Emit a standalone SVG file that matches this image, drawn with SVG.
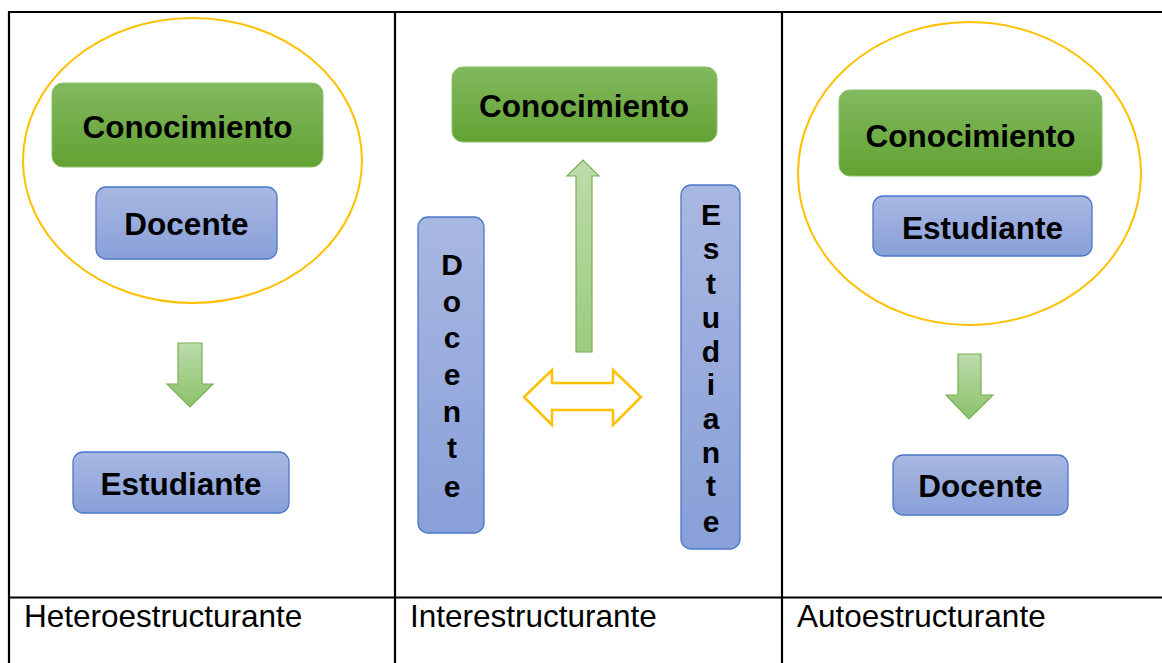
<svg xmlns="http://www.w3.org/2000/svg" width="1162" height="663" viewBox="0 0 1162 663">
<defs>
<linearGradient id="gG" x1="0" y1="0" x2="0" y2="1"><stop offset="0" stop-color="#82b95f"/><stop offset="1" stop-color="#62a232"/></linearGradient>
<linearGradient id="gB" x1="0" y1="0" x2="0" y2="1"><stop offset="0" stop-color="#a9b8e2"/><stop offset="1" stop-color="#889fd8"/></linearGradient>
<linearGradient id="gA" x1="0" y1="0" x2="0" y2="1"><stop offset="0" stop-color="#bcdcac"/><stop offset="1" stop-color="#8cc26a"/></linearGradient>
<linearGradient id="gAu" x1="0" y1="1" x2="0" y2="0"><stop offset="0" stop-color="#9ccc80"/><stop offset="1" stop-color="#bddcac"/></linearGradient>
</defs>
<style>
.grid{stroke:#000;stroke-width:2.2;fill:none}
.green{fill:url(#gG);stroke:#8cc06a;stroke-width:1}
.blue{fill:url(#gB);stroke:#4a78c8;stroke-width:1.3}
.ell{fill:none;stroke:#ffc000;stroke-width:2}
.t{font-family:"Liberation Sans",Arial,sans-serif;font-weight:bold;font-size:31.5px;fill:#000;text-anchor:middle}
.v{font-family:"Liberation Sans",Arial,sans-serif;font-weight:bold;font-size:30px;fill:#000;text-anchor:middle}
.lab{font-family:"Liberation Sans",Arial,sans-serif;font-size:31.5px;fill:#000}
.arr{fill:url(#gA);stroke:#78b050;stroke-width:1.2}
</style>
<rect width="1162" height="663" fill="#fff"/>
<g id="table">
<line class="grid" x1="9" y1="12" x2="1162" y2="12"/>
<line class="grid" x1="9" y1="597.5" x2="1162" y2="597.5"/>
<line class="grid" x1="9" y1="11" x2="9" y2="663"/>
<line class="grid" x1="395" y1="11" x2="395" y2="663"/>
<line class="grid" x1="782" y1="11" x2="782" y2="663"/>
</g>
<g id="col1">
<ellipse id="ellipse1" class="ell" cx="192.5" cy="160.5" rx="169.5" ry="142.5"/>
<g id="conocimiento1"><rect class="green" x="52" y="83" width="271" height="84" rx="11"/><text class="t" x="187.5" y="138">Conocimiento</text></g>
<g id="docente1"><rect class="blue" x="96" y="187" width="181" height="72" rx="10"/><text class="t" x="186.5" y="235">Docente</text></g>
<g id="estudiante1"><rect class="blue" x="73" y="452" width="216" height="61" rx="10"/><text class="t" x="181" y="495">Estudiante</text></g>
<text id="label1" class="lab" x="24" y="627">Heteroestructurante</text>
</g>
<g id="col2">
<g id="conocimiento2"><rect class="green" x="452" y="67" width="265" height="75" rx="11"/><text class="t" x="584" y="117">Conocimiento</text></g>
<g id="docente2"><rect class="blue" x="418" y="217" width="66" height="316" rx="10"/>
<text class="v" x="452" y="275">D</text><text class="v" x="452" y="312">o</text><text class="v" x="452" y="348">c</text><text class="v" x="452" y="385">e</text><text class="v" x="452" y="422">n</text><text class="v" x="452" y="458">t</text><text class="v" x="452" y="497">e</text></g>
<g id="estudiante2"><rect class="blue" x="681" y="185" width="59" height="364" rx="10"/>
<text class="v" x="711" y="225">E</text><text class="v" x="711" y="259">s</text><text class="v" x="711" y="294">t</text><text class="v" x="711" y="328">u</text><text class="v" x="711" y="362">d</text><text class="v" x="711" y="395">i</text><text class="v" x="711" y="429">a</text><text class="v" x="711" y="463">n</text><text class="v" x="711" y="496">t</text><text class="v" x="711" y="532">e</text></g>
<text id="label2" class="lab" x="410" y="627">Interestructurante</text>
</g>
<g id="col3">
<ellipse id="ellipse3" class="ell" cx="969.5" cy="173.5" rx="171.5" ry="151.5"/>
<g id="conocimiento3"><rect class="green" x="839" y="90" width="263" height="86" rx="11"/><text class="t" x="970.5" y="147">Conocimiento</text></g>
<g id="estudiante3"><rect class="blue" x="873" y="196" width="219" height="60" rx="10"/><text class="t" x="982.5" y="239">Estudiante</text></g>
<g id="docente3"><rect class="blue" x="893" y="455" width="175" height="60" rx="10"/><text class="t" x="980.5" y="497">Docente</text></g>
<text id="label3" class="lab" x="797" y="627">Autoestructurante</text>
</g>
<g id="connectors">
<path class="arr" d="M178,343 H202 V384 H213 L190,407 L167,384 H178 Z"/>
<path class="arr" style="fill:url(#gAu)" d="M576,352 V176 H567 L583,160 L599,176 H592 V352 Z"/>
<path d="M524,397 L552,370 V383 H613 V370 L641,397 L613,425 V410 H552 V425 Z" fill="#fff" stroke="#ffc000" stroke-width="2.5" stroke-linejoin="miter"/>
<path class="arr" d="M958,354 H981 V395 H993 L969,419 L946,395 H958 Z"/>
</g>
</svg>
